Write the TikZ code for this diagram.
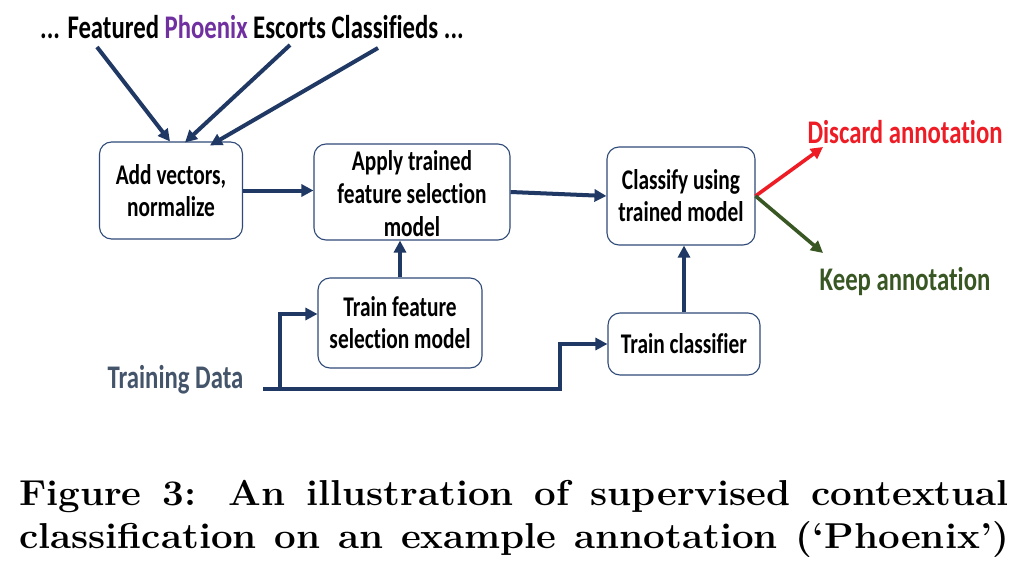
\documentclass[tikz,border=0pt]{standalone}
\usepackage{fontspec}
\usetikzlibrary{arrows.meta,calc}
\newfontfamily\calib{Carlito}[FakeStretch=0.75,Ligatures=NoCommon]
\definecolor{navy}{HTML}{1F3864}
\definecolor{boxline}{HTML}{2F4A78}
\definecolor{discred}{HTML}{EE1C25}
\definecolor{keepgreen}{HTML}{385723}
\definecolor{phxpurple}{HTML}{7030A0}
\definecolor{slate}{HTML}{44546A}
\begin{document}
\begin{tikzpicture}[x=1pt,y=-1pt,
  box/.style={draw=boxline, line width=1.1pt, rounded corners=12pt, fill=white, inner sep=0pt, align=center, font=\calib\bfseries\fontsize{28.5}{32}\selectfont},
  boxtext/.style={inner sep=0pt, align=center, font=\calib\bfseries\fontsize{28.5}{33}\selectfont},
  arr/.style={draw=navy, line width=4pt, -{Triangle[length=12pt,width=12pt]}},
  redarr/.style={draw=discred, line width=3.6pt, -{Triangle[length=12pt,width=12pt]}},
  greenarr/.style={draw=keepgreen, line width=3.6pt, -{Triangle[length=12pt,width=12pt]}},
  lbl/.style={font=\calib\bfseries\fontsize{33}{36}\selectfont, inner sep=0pt},
  captxt/.style={font=\bfseries\fontsize{36}{44}\selectfont, inner sep=0pt, anchor=base west}]
\useasboundingbox (0,0) rectangle (1032,564);
\fill[white] (0,0) rectangle (1032,564);

% top text
\node[lbl] (src) at (252,27) {... Featured \textcolor{phxpurple}{Phoenix} Escorts Classifieds ...};

% boxes
\node[box, minimum width=143pt, minimum height=97pt] (add) at (171,190.5) {Add vectors,\\normalize};
\node[box, minimum width=196pt, minimum height=96pt] (apply) at (412,192) {};
\node[boxtext] (applytxt) at (412,193.5) {Apply trained\\feature selection\\model};
\node[box, minimum width=148pt, minimum height=98pt] (classify) at (681,196) {Classify using\\trained model};
\node[box, minimum width=164pt, minimum height=90pt] (tfs) at (400,323) {Train feature\\selection model};
\node[box, minimum width=152pt, minimum height=62pt] (tc) at (684,344) {Train classifier};

% labels
\node[lbl, text=slate] (td) at (175.5,380) {Training Data};
\node[lbl, text=discred] (disc) at (905,132) {Discard annotation};
\node[lbl, text=keepgreen] (keep) at (905,282) {Keep annotation};

% arrows from sentence
\coordinate (s1) at (97,47);
\coordinate (s2) at (290,45);
\coordinate (s3) at (378,48);
\draw[arr] (s1) -- ($(add.north)+(-1,0)$);
\draw[arr] (s2) -- ($(add.north)+(14,1)$);
\draw[arr] (s3) -- ($(add.north)+(39,4)$);

% pipeline
\draw[arr] (add.east) -- (add.east -| apply.west);
\draw[arr] (apply.east) -- (classify.west);
\draw[arr] (tfs.north) -- (tfs.north |- apply.south);
\draw[arr] (tc.north) -- (tc.north |- classify.south);

% training data
\coordinate (t0) at (263,389);
\draw[arr] (t0) -- ++(297,0) |- (tc.west);
\draw[arr] ($(t0)+(17,0)$) |- ($(tfs.west)+(0,-9)$);

% outputs
\coordinate (dend) at (823,147);
\coordinate (kend) at (823,253);
\draw[redarr] (classify.east) -- (dend);
\draw[greenarr] (classify.east) -- (kend);

% caption
\node[captxt] (cap1) at (19,505) {\scalebox{1.07}[1]{\makebox[925pt][s]{Figure 3: An illustration of supervised contextual}}};
\node[captxt] (cap2) at (19,548) {\scalebox{1.07}[1]{\makebox[925pt][s]{classification on an example annotation (`Phoenix')}}};
\end{tikzpicture}
\end{document}
